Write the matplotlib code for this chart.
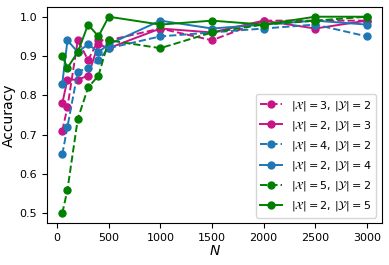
import matplotlib.pyplot as plt

# sample sizes
N = [50, 100, 200, 300, 400, 500, 1000, 1500, 2000, 2500, 3000]

acc_x3_y2 = [0.71, 0.77, 0.94, 0.89, 0.94, 0.94, 0.97, 0.94, 0.99, 0.99, 0.99]
acc_x2_y3 = [0.78, 0.84, 0.84, 0.85, 0.93, 0.92, 0.97, 0.96, 0.99, 0.97, 0.99]
acc_x4_y2 = [0.65, 0.72, 0.86, 0.87, 0.89, 0.92, 0.95, 0.96, 0.97, 0.98, 0.95]
acc_x2_y4 = [0.83, 0.94, 0.91, 0.93, 0.91, 0.93, 0.99, 0.97, 0.98, 0.99, 0.98]
acc_x5_y2 = [0.50, 0.56, 0.74, 0.82, 0.85, 0.94, 0.92, 0.96, 0.98, 0.99, 1.00]
acc_x2_y5 = [0.90, 0.87, 0.91, 0.98, 0.95, 1.00, 0.98, 0.99, 0.98, 1.00, 1.00]

series = [
    (acc_x3_y2, 'mediumvioletred', '--', r'$|\mathcal{X}|=3$, $|\mathcal{Y}|=2$'),
    (acc_x2_y3, 'mediumvioletred', '-', r'$|\mathcal{X}|=2$, $|\mathcal{Y}|=3$'),
    (acc_x4_y2, 'tab:blue', '--', r'$|\mathcal{X}|=4$, $|\mathcal{Y}|=2$'),
    (acc_x2_y4, 'tab:blue', '-', r'$|\mathcal{X}|=2$, $|\mathcal{Y}|=4$'),
    (acc_x5_y2, 'green', '--', r'$|\mathcal{X}|=5$, $|\mathcal{Y}|=2$'),
    (acc_x2_y5, 'green', '-', r'$|\mathcal{X}|=2$, $|\mathcal{Y}|=5$'),
]

fig, ax = plt.subplots(figsize=(3.89, 2.65), dpi=100)
fig.subplots_adjust(left=0.121, right=0.982, top=0.974, bottom=0.158)

for vals, col, ls, lab in series:
    ax.plot(N, vals, color=col, linestyle=ls, marker='o', markersize=5, linewidth=1.4, label=lab)

ax.set_xlabel(r'$N$', fontsize=10, labelpad=1)
ax.set_ylabel('Accuracy', fontsize=10, labelpad=3)
ax.tick_params(labelsize=8)
ax.set_xticks([0, 500, 1000, 1500, 2000, 2500, 3000])
ax.legend(loc='lower right', fontsize=8, labelspacing=0.55)

fig.savefig('out.png')
